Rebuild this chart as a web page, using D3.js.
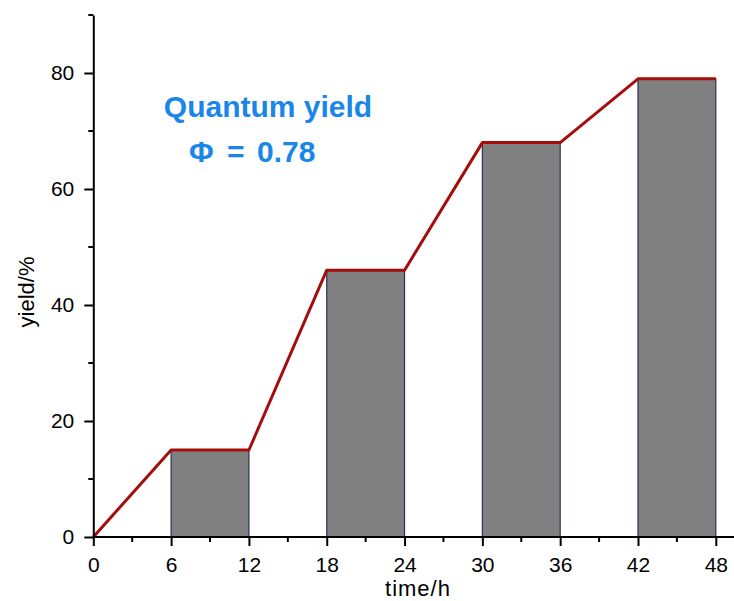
<!DOCTYPE html>
<html>
<head>
<meta charset="utf-8">
<script src="https://cdn.jsdelivr.net/npm/d3@7/dist/d3.min.js"></script>
<style>
  html, body { margin: 0; padding: 0; background: #fff; }
  svg { display: block; }
  text { font-family: "Liberation Sans", Arial, sans-serif; }
</style>
</head>
<body>
<svg id="chart" width="734" height="601"></svg>
<script>
// Reaction yield measured over irradiation time
const barStart = [6, 18, 30, 42];
const barEnd = [12, 24, 36, 48];
const barYield = [15, 46, 68, 79];

// Profile line joining the plateaus (time, yield)
const lineTime = [0, 6, 12, 18, 24, 30, 36, 42, 48];
const lineYield = [0, 15, 15, 46, 46, 68, 68, 79, 79];

const xTicks = [0, 6, 12, 18, 24, 30, 36, 42, 48];
const xMinorTicks = [3, 9, 15, 21, 27, 33, 39, 45];
const yTicks = [0, 20, 40, 60, 80];
const yMinorTicks = [10, 30, 50, 70, 90];

const svg = d3.select("#chart");

const x = d3.scaleLinear().domain([0, 48]).range([93.3, 715.8]);
const y = d3.scaleLinear().domain([0, 90]).range([537, 15]);

// Bars
svg.append("g").selectAll("rect")
  .data(barYield)
  .join("rect")
  .attr("x", (d, i) => x(barStart[i]))
  .attr("width", (d, i) => x(barEnd[i]) - x(barStart[i]))
  .attr("y", d => y(d))
  .attr("height", d => y(0) - y(d))
  .attr("fill", "#808080")
  .attr("stroke", "#2b3152")
  .attr("stroke-width", 1.2);

// Profile line
const line = d3.line()
  .x((d, i) => x(lineTime[i]))
  .y(d => y(d));
svg.append("path")
  .datum(lineYield)
  .attr("d", line)
  .attr("fill", "none")
  .attr("stroke", "#a50d0d")
  .attr("stroke-width", 3)
  .attr("stroke-linejoin", "round");

// X axis
const xAxis = svg.append("g").attr("transform", `translate(0,${y(0)})`);
xAxis.call(d3.axisBottom(x).tickValues(xTicks).tickSize(9).tickPadding(11).tickSizeOuter(0));
xAxis.select(".domain").attr("d", `M${x(0)},0H734`);
xAxis.selectAll(".tick line").attr("stroke", "#000").attr("stroke-width", 2);
xAxis.selectAll(".tick text").attr("font-size", 21).attr("fill", "#000")
  .attr("font-family", "Liberation Sans, Arial, sans-serif");
xAxis.select(".domain").attr("stroke", "#000").attr("stroke-width", 2);
xAxis.selectAll(".minor").data(xMinorTicks).join("line")
  .attr("class", "minor")
  .attr("x1", d => x(d)).attr("x2", d => x(d))
  .attr("y1", 0).attr("y2", 5)
  .attr("stroke", "#000").attr("stroke-width", 2);

// Y axis
const yAxis = svg.append("g").attr("transform", `translate(${x(0)},0)`);
yAxis.call(d3.axisLeft(y).tickValues(yTicks).tickSize(9).tickPadding(10).tickSizeOuter(0));
yAxis.select(".domain").attr("stroke", "#000").attr("stroke-width", 2);
yAxis.selectAll(".tick line").attr("stroke", "#000").attr("stroke-width", 2);
yAxis.selectAll(".tick text").attr("font-size", 21).attr("fill", "#000")
  .attr("font-family", "Liberation Sans, Arial, sans-serif");
yAxis.selectAll(".minor").data(yMinorTicks).join("line")
  .attr("class", "minor")
  .attr("x1", -5).attr("x2", 0)
  .attr("y1", d => y(d)).attr("y2", d => y(d))
  .attr("stroke", "#000").attr("stroke-width", 2);

// Axis titles
svg.append("text")
  .attr("x", 418).attr("y", 596)
  .attr("text-anchor", "middle")
  .attr("font-size", 22)
  .attr("letter-spacing", 1)
  .text("time/h");
svg.append("text")
  .attr("transform", "translate(34,292) rotate(-90)")
  .attr("text-anchor", "middle")
  .attr("font-size", 22)
  .text("yield/%");

// Annotation
const note = svg.append("g")
  .attr("fill", "#1a86ea")
  .attr("font-size", 30)
  .attr("font-weight", "bold");
note.append("text")
  .attr("x", 268).attr("y", 117)
  .attr("text-anchor", "middle")
  .text("Quantum yield");
const phi = note.append("text").attr("y", 162);
phi.append("tspan").attr("x", 189).text("Φ");
phi.append("tspan").attr("x", 227).text("=");
phi.append("tspan").attr("x", 257).text("0.78");
</script>
</body>
</html>
